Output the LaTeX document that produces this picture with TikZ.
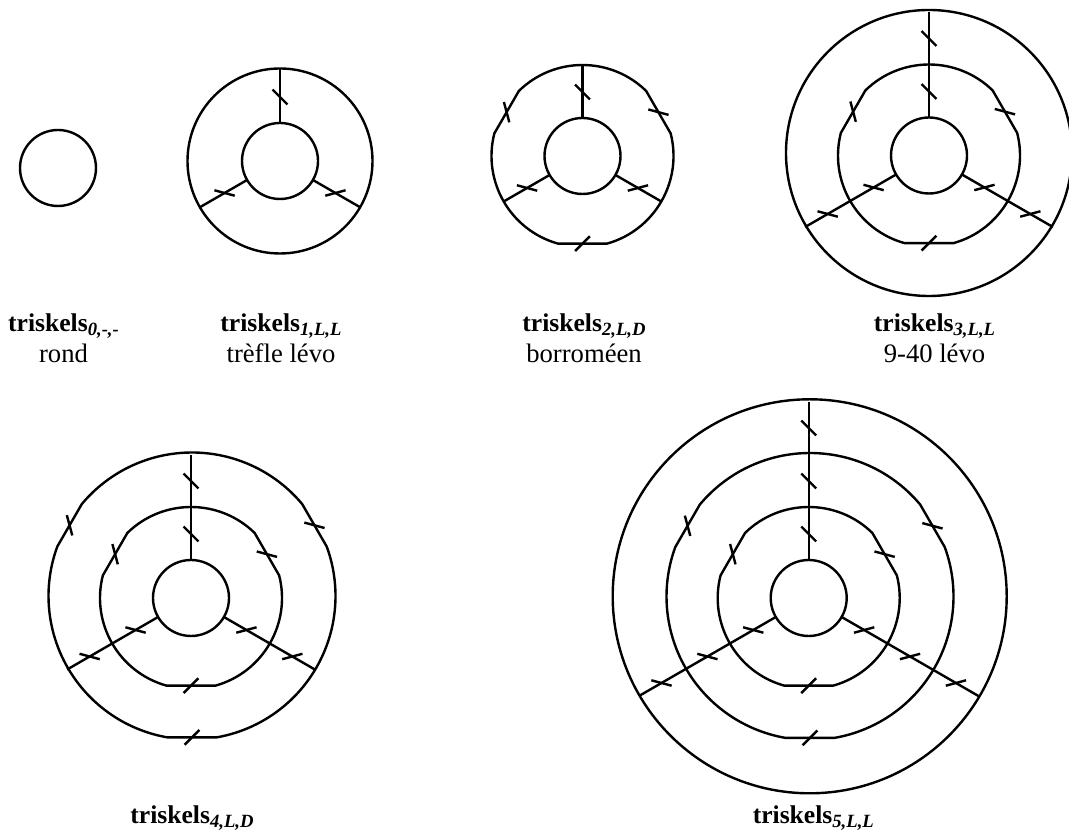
\documentclass[tikz,border=0pt]{standalone}
\usepackage{fontspec}
\setmainfont{Liberation Serif}
\usepackage{tikz}

% one name with its index
\newcommand{\trisk}[1]{{\fontsize{19.2}{23.25}\selectfont\bfseries triskels}\raisebox{-3pt}{\fontsize{14}{14}\selectfont\bfseries\itshape #1}}

% three spokes, ticked at the listed radii
\newcommand{\spokes}[4]{
  \begin{scope}[shift={(#1,#2)}]
    \foreach \a/\d in {90/135,210/165,330/15} {
      \draw (\a:38) -- (\a:#3);
      \foreach \r in {#4} \draw (\a:\r) ++(\d:10.5) -- ++(\d+180:21);
    }
  \end{scope}
}

% ring with three flats, each flat ticked
\newcommand{\flatring}[3]{
  \begin{scope}[shift={(#1,#2)}]
    \pgfmathsetmacro\hw{asin(24.5/#3)}
    \draw (30-\hw:#3) -- (30+\hw:#3)
      arc[start angle=30+\hw, end angle=150-\hw, radius=#3] -- (150+\hw:#3)
      arc[start angle=150+\hw, end angle=270-\hw, radius=#3] -- (270+\hw:#3)
      arc[start angle=270+\hw, end angle=390-\hw, radius=#3] -- cycle;
    \pgfmathsetmacro\fl{#3*cos(\hw)}
    \foreach \a/\d in {150/105,270/45,30/165}
      \draw (\a:\fl) ++(\d:10.5) -- ++(\d+180:21);
  \end{scope}
}

\begin{document}
\begin{tikzpicture}[x=0.75pt,y=0.75pt,line width=1.8pt,
    lab/.style={align=center,font=\fontsize{20}{23.25}\selectfont}]
  \useasboundingbox (0,0) rectangle (1069,834);

  % top row
  \draw (58,666) circle (38);

  \draw (280,673) circle (38);
  \draw (280,673) circle (92.5);
  \spokes{280}{673}{92.5}{64}

  \draw (582.5,678) circle (38);
  \flatring{582.5}{678}{91}
  \spokes{582.5}{678}{91}{64}

  \draw (929,678.5) circle (38);
  \flatring{929}{678.5}{91}
  \draw (929,681) circle (143);
  \spokes{929}{678.5}{143}{64,117}

  % bottom row
  \draw (191,236) circle (38);
  \flatring{191}{236}{91}
  \flatring{192}{238}{143.5}
  \spokes{191}{236}{143}{64,117}

  \draw (808.7,236) circle (38);
  \flatring{808.7}{236}{91}
  \flatring{810}{237.5}{143.5}
  \draw (809.7,237.7) circle (197);
  \spokes{808.7}{236}{196}{64,117,170}

  % labels
  \node[lab] (rond) at (63.5,495.5) {\trisk{0,-,-}\\rond};
  \node[lab] (trefle) at (281,495.5) {\trisk{1,L,L}\\trèfle lévo};
  \node[lab] (borro) at (584,495.5) {\trisk{2,L,D}\\borroméen};
  \node[lab] (neuf) at (934.5,495.5) {\trisk{3,L,L}\\9-40 lévo};
  \node[lab,anchor=base] (quatre) at (192,10.7) {\trisk{4,L,D}};
  \node[lab,anchor=base] (cinq) at (813.3,10.7) {\trisk{5,L,L}};
\end{tikzpicture}
\end{document}
